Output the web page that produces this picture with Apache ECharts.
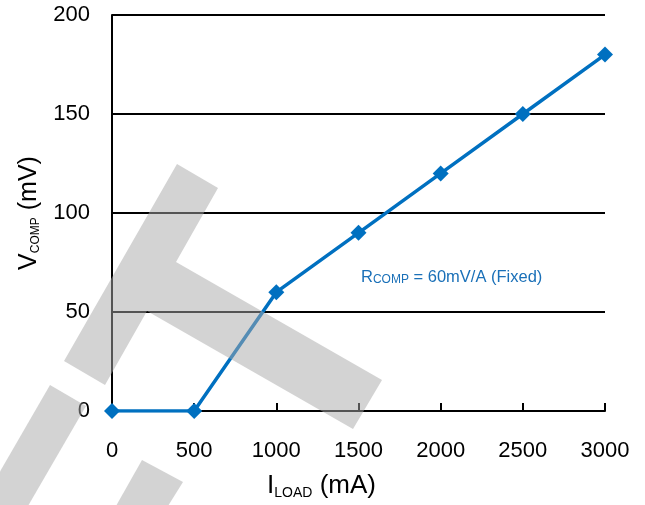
<!DOCTYPE html>
<html>
<head>
<meta charset="utf-8">
<script src="https://cdn.jsdelivr.net/npm/echarts@6/dist/echarts.min.js"></script>
<style>html,body{margin:0;padding:0;background:#fff;}#c{width:645px;height:505px;}</style>
</head>
<body>
<div id="c"></div>
<script>
const xValues = [0, 500, 1000, 1500, 2000, 2500, 3000];
const vcomp = [0, 0, 60, 90, 120, 150, 180];
const xTicks = [0, 500, 1000, 1500, 2000, 2500, 3000];
const yTicks = [0, 50, 100, 150, 200];

const FONT = '"Liberation Sans", Arial, sans-serif';
const chart = echarts.init(document.getElementById('c'));
const wm = 'rgba(168,168,168,0.5)';
chart.setOption({
  animation: false,
  grid: { left: 112, right: 40, top: 15, bottom: 92 },
  xAxis: {
    type: 'value', min: 0, max: 3000, interval: 500,
    axisLine: { show: true, lineStyle: { color: '#000', width: 2 } },
    axisTick: { show: true, inside: true, length: 8, lineStyle: { color: '#000', width: 2 } },
    axisLabel: { color: '#000', fontSize: 22, fontFamily: FONT, margin: 29, formatter: v => String(v) },
    splitLine: { show: false },
    name: '{a|I}{b|LOAD}{a| (mA)}',
    nameLocation: 'middle', nameGap: 60,
    nameTextStyle: {
      padding: [0, 74, 0, 0],
      rich: {
        a: { fontSize: 26, fontFamily: FONT, color: '#000', lineHeight: 30 },
        b: { fontSize: 14, fontFamily: FONT, color: '#000', lineHeight: 30, padding: [14, 0, 0, 0] }
      }
    }
  },
  yAxis: {
    type: 'value', min: 0, max: 200, interval: 50,
    axisLine: { show: true, lineStyle: { color: '#000', width: 2 } },
    axisTick: { show: false },
    axisLabel: { color: '#000', fontSize: 22, fontFamily: FONT, margin: 22, formatter: v => String(v) },
    splitLine: { show: true, lineStyle: { color: '#000', width: 2 } },
    name: '{a|V}{b|COMP}{a| (mV)}',
    nameLocation: 'middle', nameGap: 68, nameRotate: 90,
    nameTextStyle: {
      rich: {
        a: { fontSize: 25, fontFamily: FONT, color: '#000', lineHeight: 30 },
        b: { fontSize: 12, fontFamily: FONT, color: '#000', lineHeight: 30, padding: [14, 0, 0, 0] }
      }
    }
  },
  series: [{
    type: 'line',
    data: xValues.map((x, i) => [x, vcomp[i]]),
    symbol: 'diamond', symbolSize: 16,
    lineStyle: { color: '#0070c0', width: 3.5 },
    itemStyle: { color: '#0070c0' },
    z: 5
  }],
  graphic: [
    {
      type: 'text', left: 361, top: 269, z: 50,
      style: {
        text: '{a|R}{b|COMP}{a| = 60mV/A (Fixed)}',
        rich: {
          a: { fontSize: 16.5, fontFamily: FONT, fill: '#1a70b8', lineHeight: 19 },
          b: { fontSize: 12, fontFamily: FONT, fill: '#1a70b8', lineHeight: 19, padding: [4, 0, 0, 0] }
        }
      }
    },
    { type: 'polygon', z: 100, silent: true,
      shape: { points: [[177,164],[218,188],[176,262],[382,380],[353,429],[147,311],[105,385],[64,361]] },
      style: { fill: wm } },
    { type: 'polygon', z: 100, silent: true,
      shape: { points: [[50,385],[86,406],[28,506],[-20,506]] },
      style: { fill: wm } },
    { type: 'polygon', z: 100, silent: true,
      shape: { points: [[142,460],[183,482],[168,506],[116,506]] },
      style: { fill: wm } }
  ]
});
</script>
</body>
</html>
